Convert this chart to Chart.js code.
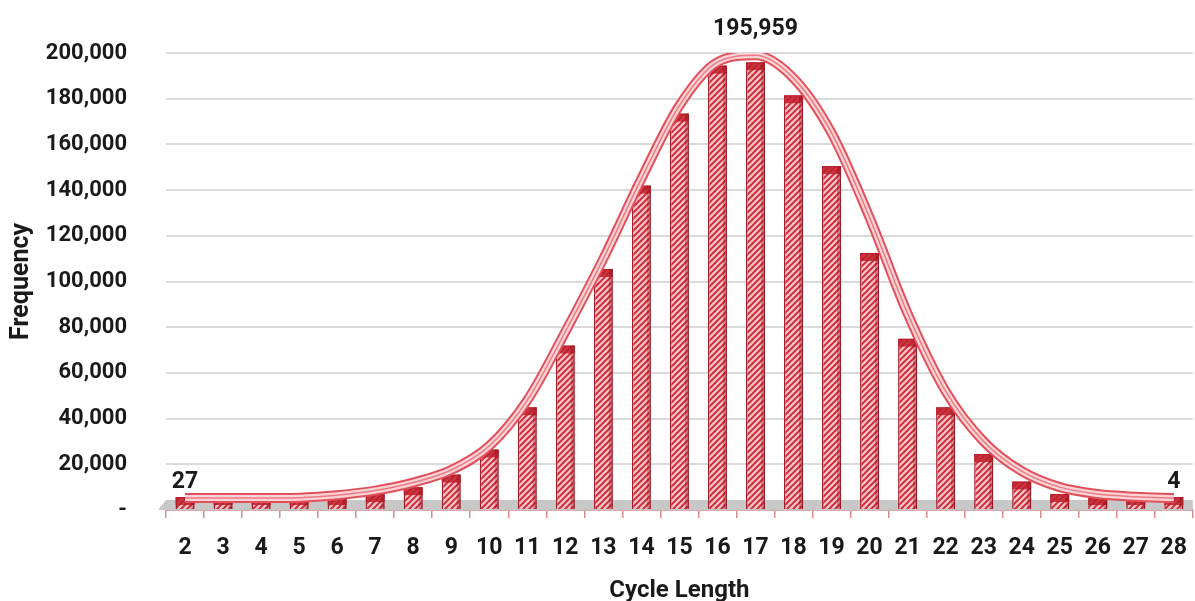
<!DOCTYPE html>
<html><head><meta charset="utf-8">
<script src="https://cdn.jsdelivr.net/npm/chart.js@4.4.1/dist/chart.umd.min.js"></script>
<style>html,body{margin:0;padding:0;background:#fff;overflow:hidden}#wrap{width:1195px;height:601px;position:relative;overflow:hidden}</style>
</head><body><div id="wrap"><canvas id="c" width="1203" height="601"></canvas></div>
<script>
const categories = ['2','3','4','5','6','7','8','9','10','11','12','13','14','15','16','17','18','19','20','21','22','23','24','25','26','27','28'];
const frequency = [27, 80, 200, 500, 1200, 7000, 10000, 15500, 26500, 45000, 72000, 105500, 142000, 173500, 194500, 195959, 181500, 150500, 112500, 75000, 45000, 24500, 12500, 7000, 1500, 300, 4];
const fittedCurve = [5200, 5200, 5200, 5400, 6500, 8500, 12000, 17500, 28000, 48000, 78000, 110000, 145000, 177000, 196000, 199000, 189000, 165000, 128000, 86000, 52000, 30000, 17000, 10000, 7000, 5800, 5200];
const yTicks = [0, 20000, 40000, 60000, 80000, 100000, 120000, 140000, 160000, 180000, 200000];
const labeledPoints = [0, 15, 26];
const xTitle = 'Cycle Length';
const yTitle = 'Frequency';

const FONT = "Roboto, 'Noto Sans', sans-serif";
const canvas = document.getElementById('c');
const ctx0 = canvas.getContext('2d');

function makePattern(){
  const p = document.createElement('canvas'); p.width = 6; p.height = 6;
  const g = p.getContext('2d');
  g.fillStyle = '#f7c0c4'; g.fillRect(0,0,6,6);
  g.strokeStyle = '#cc2634'; g.lineWidth = 1.9;
  g.beginPath();
  g.moveTo(-1,7); g.lineTo(7,-1);
  g.moveTo(-4,4); g.lineTo(4,-4);
  g.moveTo(2,10); g.lineTo(10,2);
  g.stroke();
  return ctx0.createPattern(p, 'repeat');
}

const floorPlugin = {
  id: 'floor',
  beforeDatasetsDraw(chart){
    const {ctx, chartArea, scales:{y}} = chart;
    const y0 = y.getPixelForValue(0);
    ctx.save();
    ctx.fillStyle = '#c8c8c8';
    ctx.beginPath();
    ctx.moveTo(chartArea.left - 8, y0);
    ctx.lineTo(chartArea.left, y0 - 10);
    ctx.lineTo(chartArea.right, y0 - 10);
    ctx.lineTo(chartArea.right, y0);
    ctx.closePath();
    ctx.fill();
    ctx.restore();
  }
};

const capPlugin = {
  id: 'caps',
  afterDatasetDraw(chart, args){
    if (args.index !== 0) return;
    const {ctx} = chart;
    ctx.save();
    args.meta.data.forEach(el => {
      const {x, y, base, width} = el.getProps(['x','y','base','width'], true);
      const h = Math.min(8, base - y);
      ctx.fillStyle = 'rgba(190,30,42,0.85)';
      ctx.fillRect(x - width/2, y, width, h);
      ctx.fillStyle = 'rgba(140,15,25,0.35)';
      ctx.fillRect(x + width/2 - 4, y, 4, base - y);
    });
    ctx.restore();
  }
};

const labelPlugin = {
  id: 'pointLabels',
  afterDatasetsDraw(chart){
    const {ctx} = chart;
    const barMeta = chart.getDatasetMeta(0);
    const lineMeta = chart.getDatasetMeta(1);
    ctx.save();
    ctx.font = "bold 23px " + FONT;
    ctx.fillStyle = '#1a1a1a';
    ctx.textAlign = 'center';
    ctx.textBaseline = 'bottom';
    labeledPoints.forEach(i => {
      const bx = barMeta.data[i].x;
      const ly = lineMeta.data[i].y;
      const off = (i === 15) ? 15 : 4;
      ctx.fillText(frequency[i].toLocaleString('en-US'), bx, ly - off);
    });
    ctx.restore();
  }
};

const curveCommon = {
  type: 'line',
  data: fittedCurve,
  pointRadius: 0,
  pointHoverRadius: 0,
  fill: false,
  tension: 0.4,
  cubicInterpolationMode: 'monotone'
};

new Chart(canvas, {
  data: {
    labels: categories,
    datasets: [
      {
        type: 'bar',
        data: frequency,
        backgroundColor: makePattern(),
        borderColor: '#a51f2b',
        borderWidth: 1.5,
        barPercentage: 0.5,
        categoryPercentage: 1.0,
        minBarLength: 13,
        order: 4
      },
      Object.assign({}, curveCommon, {borderColor: '#e2505b', borderWidth: 10, order: 3}),
      Object.assign({}, curveCommon, {borderColor: '#f9d3d6', borderWidth: 6, order: 2}),
      Object.assign({}, curveCommon, {borderColor: 'rgba(232,100,110,0.8)', borderWidth: 1.5, order: 1})
    ]
  },
  options: {
    responsive: false,
    animation: false,
    devicePixelRatio: 1,
    layout: {padding: {top: 53, right: 0, left: 0, bottom: 0}},
    plugins: {legend: {display: false}, tooltip: {enabled: false}},
    scales: {
      x: {
        offset: true,
        grid: {offset: true, drawOnChartArea: false, drawTicks: true, tickLength: 8, color: '#d98a8e', lineWidth: 1.5},
        border: {display: true, color: '#d9777e', width: 1.5},
        ticks: {color: '#1a1a1a', font: {family: FONT, size: 23, weight: 'bold'}, padding: 16, maxRotation: 0, autoSkip: false},
        title: {display: true, text: xTitle, color: '#1a1a1a', font: {family: FONT, size: 24, weight: 'bold'}, padding: {top: 0, bottom: -4}},
        afterFit(scale){ scale.height = 91; }
      },
      y: {
        min: 0, max: 200000,
        afterBuildTicks(scale){ scale.ticks = yTicks.map(v => ({value: v})); },
        grid: {color: '#dadada', lineWidth: 2, drawTicks: false},
        border: {display: false},
        ticks: {
          color: '#1a1a1a', padding: 39,
          font: {family: FONT, size: 22, weight: 'bold'},
          callback: v => v === 0 ? '-' : Number(v).toLocaleString('en-US')
        },
        title: {display: true, text: yTitle, color: '#1a1a1a', font: {family: FONT, size: 25, weight: 'bold'}, padding: {top: 7, bottom: 0}},
        afterFit(scale){ scale.width = 166; }
      }
    }
  },
  plugins: [floorPlugin, capPlugin, labelPlugin]
});
</script></body></html>
